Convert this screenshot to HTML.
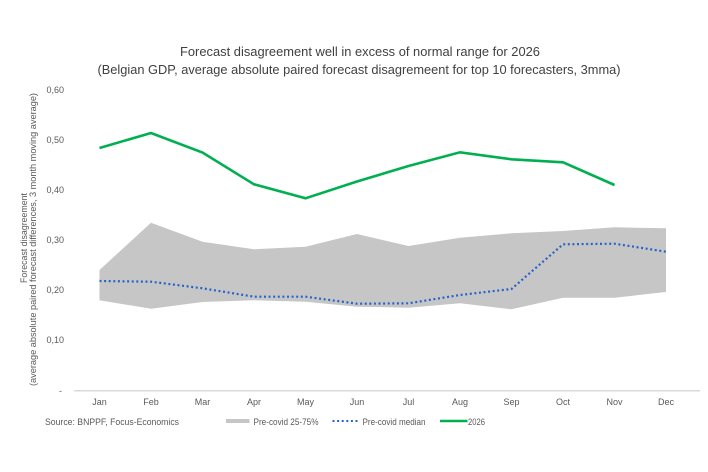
<!DOCTYPE html>
<html><head><meta charset="utf-8"><style>
html,body{margin:0;padding:0;background:#fff;}
svg{display:block;font-family:"Liberation Sans",Arial,sans-serif;}
</style></head><body>
<svg width="708" height="472" viewBox="0 0 708 472" xmlns="http://www.w3.org/2000/svg">
<rect width="708" height="472" fill="#fff"/>
<text x="360" y="56" font-size="13" fill="#404040" text-anchor="middle" textLength="360" lengthAdjust="spacingAndGlyphs">Forecast disagreement well in excess of normal range for 2026</text>
<text x="359" y="74" font-size="13" fill="#404040" text-anchor="middle" textLength="523" lengthAdjust="spacingAndGlyphs">(Belgian GDP, average absolute paired forecast disagremeent for top 10 forecasters, 3mma)</text>

<g font-size="9" fill="#595959" text-anchor="end">
<text x="64" y="93">0,60</text>
<text x="64" y="143">0,50</text>
<text x="64" y="193">0,40</text>
<text x="64" y="243">0,30</text>
<text x="64" y="293">0,20</text>
<text x="64" y="343">0,10</text>
<text x="62" y="394">-</text>
</g>
<g font-size="9.5" fill="#595959" text-anchor="middle">
<text transform="translate(27,238) rotate(-90)" textLength="90" lengthAdjust="spacingAndGlyphs">Forecast disagreement</text>
<text transform="translate(36,239.5) rotate(-90)" textLength="293" lengthAdjust="spacingAndGlyphs">(average absolute paired forecast differences, 3 month moving average)</text>
</g>

<line x1="74" y1="390.7" x2="700" y2="390.7" stroke="#d9d9d9" stroke-width="1.5"/>

<polygon fill="#c6c6c6" points="99.5,270 151,222.7 202.5,241.7 254,249.3 305.5,246.7 357,234 408.5,246 460,237.7 511.5,233.3 563,231 614.5,227.3 666,228.3 666,292 614.5,297.7 563,297.7 511.5,309.3 460,303.3 408.5,307.7 357,306.7 305.5,301.7 254,300.3 202.5,302 151,308.7 99.5,300.3"/>

<polyline fill="none" stroke="#2563c9" stroke-width="2.2" stroke-dasharray="2 2.6" points="99.5,281 151,281.7 202.5,288.3 254,296.7 305.5,296.7 357,303.7 408.5,303.3 460,295 511.5,289 563,244.3 614.5,243.7 666,251.7"/>

<polyline fill="none" stroke="#00b050" stroke-width="2.6" stroke-linejoin="miter" points="99.5,148 151,133 202.5,152.5 254,184.3 305.5,198.3 357,181.5 408.5,166 460,152.3 511.5,159.3 563,162.3 614.5,185"/>

<g font-size="9" fill="#595959" text-anchor="middle">
<text x="99.5" y="405">Jan</text>
<text x="151" y="405">Feb</text>
<text x="202.5" y="405">Mar</text>
<text x="254" y="405">Apr</text>
<text x="305.5" y="405">May</text>
<text x="357" y="405">Jun</text>
<text x="408.5" y="405">Jul</text>
<text x="460" y="405">Aug</text>
<text x="511.5" y="405">Sep</text>
<text x="563" y="405">Oct</text>
<text x="614.5" y="405">Nov</text>
<text x="666" y="405">Dec</text>
</g>

<text x="45" y="425" font-size="9.5" fill="#595959" textLength="134" lengthAdjust="spacingAndGlyphs">Source: BNPPF, Focus-Economics</text>

<rect x="226" y="419" width="23.5" height="4" fill="#c6c6c6"/>
<text x="253.5" y="425" font-size="9" fill="#595959" textLength="65" lengthAdjust="spacingAndGlyphs">Pre-covid 25-75%</text>
<line x1="332.5" y1="421" x2="359" y2="421" stroke="#2563c9" stroke-width="2" stroke-dasharray="2 2.6"/>
<text x="362.5" y="425" font-size="9" fill="#595959" textLength="63" lengthAdjust="spacingAndGlyphs">Pre-covid median</text>
<line x1="440" y1="421" x2="467.5" y2="421" stroke="#00b050" stroke-width="2.6"/>
<text x="468" y="425" font-size="9" fill="#595959" textLength="17" lengthAdjust="spacingAndGlyphs">2026</text>
</svg>
</body></html>
